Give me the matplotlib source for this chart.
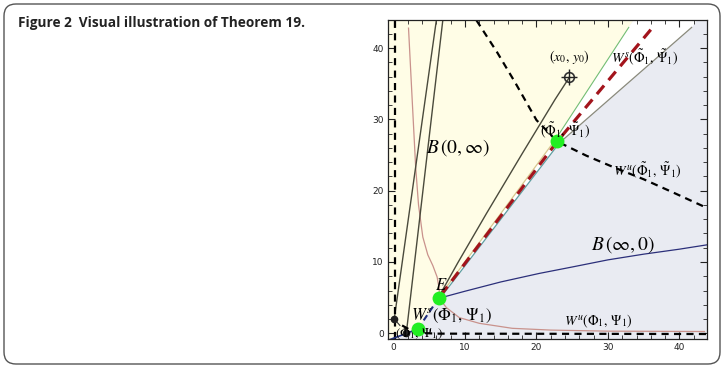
import numpy as np
import matplotlib
matplotlib.use("Agg")
import matplotlib.pyplot as plt
from matplotlib.patches import FancyBboxPatch, Polygon
from matplotlib.ticker import MultipleLocator
from matplotlib.transforms import IdentityTransform

plt.rcParams['mathtext.fontset'] = 'stix'

# ---- data ----
E = (6.3, 4.9)
phi1 = (3.4, 0.6)          # (Phi_1, Psi_1)
phi1t = (22.9, 26.9)       # (Phi~_1, Psi~_1)
x0y0 = (24.6, 35.9)
black_pts_x = [0.1, 1.8]
black_pts_y = [2.0, 0.1]

# boundaries of the white strip
left_bx = [6.3, 22.6, 32.9]
left_by = [5.0, 27.1, 42.9]
right_bx = [6.5, 23.2, 41.7]
right_by = [4.9, 26.7, 42.9]

red_x = [6.6, 22.9, 36.5]
red_y = [5.3, 26.9, 43.2]

pink_x = [2.1, 2.6, 3.1, 3.5, 4.1, 4.8, 5.5, 6.1, 6.4, 6.4, 7.4, 9.2, 12.0, 16.6, 22.0, 30.0, 43.5]
pink_y = [42.8, 33.0, 23.3, 18.0, 13.5, 11.0, 9.5, 7.9, 6.2, 4.9, 3.6, 2.2, 1.4, 0.7, 0.45, 0.3, 0.25]

wu_x = [11.6, 14.5, 17.0, 20.0, 22.9, 27.0, 31.0, 35.0, 39.0, 43.8]
wu_y = [43.9, 39.4, 35.2, 29.9, 26.9, 24.9, 23.2, 21.6, 19.8, 17.6]

binf_x = [6.3, 10.0, 15.0, 20.4, 25.0, 30.0, 35.0, 40.0, 43.8]
binf_y = [4.9, 5.9, 7.2, 8.4, 9.3, 10.3, 11.1, 11.8, 12.4]

traj_x = [24.6, 22.6, 18.0, 13.0, 9.0, 6.6]
traj_y = [35.9, 32.8, 25.2, 16.8, 9.9, 5.6]

steep1_x = [0.1, 6.0]
steep1_y = [2.0, 43.94]
steep2_x = [1.8, 6.9]
steep2_y = [0.1, 43.94]

low_dash_x = [1.2, 3.0, 6.0, 43.8]
low_dash_y = [1.1, 0.1, -0.05, -0.1]

fig = plt.figure(figsize=(7.23, 3.68), dpi=100)

frame = FancyBboxPatch((4, 4), 716, 360, boxstyle="round,pad=0,rounding_size=12",
                       transform=IdentityTransform(), fc='white', ec='#555555', lw=1.0)
fig.add_artist(frame)
frame.set_zorder(0)

fig.text(18 / 723, 1 - 27 / 368, "Figure 2  Visual illustration of Theorem 19.",
         fontsize=9.8, fontweight='bold', family='Open Sans', va='baseline', ha='left', color='#222222')

ax = fig.add_axes([388 / 723, 29 / 368, 319 / 723, 319 / 368])
xmin, xmax, ymin, ymax = -0.77, 43.85, -0.8, 43.94
ax.set_xlim(xmin, xmax)
ax.set_ylim(ymin, ymax)
ax.set_facecolor('#E9EBF2')

# yellow region left of boundary
yel = [(xmin, ymin), phi1, (left_bx[0], left_by[0]), (left_bx[1], left_by[1]),
       (left_bx[2], left_by[2]), (33.6, ymax), (xmin, ymax)]
ax.add_patch(Polygon(yel, closed=True, fc='#FFFDE6', ec='none', zorder=0))
# white strip
strip = [(left_bx[0], left_by[0]), (left_bx[1], left_by[1]), (left_bx[2], left_by[2]), (33.6, ymax),
         (42.5, ymax), (right_bx[2], right_by[2]), (right_bx[1], right_by[1]), (right_bx[0], right_by[0])]
ax.add_patch(Polygon(strip, closed=True, fc='white', ec='none', zorder=0))

# boundary lines
ax.plot(left_bx[:2], left_by[:2], color='#D8C88E', lw=0.9)
ax.plot(left_bx[1:], left_by[1:], color='#74BE74', lw=0.8)
ax.plot(right_bx[:2], right_by[:2], color='#5E9EA0', lw=0.9)
ax.plot(right_bx[1:], right_by[1:], color='#8A8A7C', lw=0.9)

# curves
ax.plot(pink_x, pink_y, color='#C9928C', lw=0.9)
ax.plot(binf_x, binf_y, color='#2B2F7A', lw=0.9)
ax.plot(traj_x, traj_y, color='#4A4A3C', lw=1.0)
ax.plot(steep1_x, steep1_y, color='#4A4A3C', lw=1.0)
ax.plot(steep2_x, steep2_y, color='#4A4A3C', lw=1.0)
ax.plot(red_x, red_y, color='#A3141C', lw=2.3, dashes=(3.5, 2.2))
ax.plot(wu_x, wu_y, color='black', lw=1.6, dashes=(3.2, 2.4))
ax.plot(low_dash_x, low_dash_y, color='black', lw=1.6, dashes=(3.2, 2.4))
ax.plot([0.15, 0.15], [ymin, ymax], color='black', lw=1.6, dashes=(3.2, 2.4))
ax.plot([phi1[0], E[0]], [phi1[1], E[1]], color='#1F2F7A', lw=1.5, dashes=(3, 2))
ax.plot([-0.8, phi1[0]], [-1.0, phi1[1]], color='#1F2F7A', lw=1.2)
ax.plot([0.1, 0.9], [2.0, 1.1], color='#333333', lw=0.8)

# points
ax.plot(black_pts_x, black_pts_y, 'o', color='#222222', ms=4.5)
ax.plot([E[0], phi1[0], phi1t[0]], [E[1], phi1[1], phi1t[1]], 'o', color='#22EE22', ms=10, mec='none')
ax.plot([x0y0[0]], [x0y0[1]], 'o', mfc='none', mec='#333333', ms=7, mew=1.2)
ax.plot([x0y0[0]], [x0y0[1]], '+', color='#222222', ms=11, mew=1.0)

# labels
ax.text(24.6, 38.75, r"$(x_0,\, y_0)$", fontsize=10, ha='center', va='center')
ax.text(35.2, 38.75, r"$W^s(\tilde{\Phi}_1,\, \tilde{\Psi}_1)$", fontsize=10, ha='center', va='center')
ax.text(24.0, 28.5, r"$(\tilde{\Phi}_1,\, \tilde{\Psi}_1)$", fontsize=10, ha='center', va='center')
ax.text(35.5, 22.9, r"$W^u(\tilde{\Phi}_1,\, \tilde{\Psi}_1)$", fontsize=10, ha='center', va='center')
ax.text(9.0, 26.0, r"$B\,(0,\infty)$", fontsize=14, ha='center', va='center')
ax.text(32.1, 12.4, r"$B\,(\infty,0)$", fontsize=14, ha='center', va='center')
ax.text(6.7, 6.8, r"$E$", fontsize=12, ha='center', va='center')
ax.text(8.1, 2.4, r"$W^s(\Phi_1,\, \Psi_1)$", fontsize=12, ha='center', va='center')
ax.text(28.7, 1.7, r"$W^u(\Phi_1,\, \Psi_1)$", fontsize=10, ha='center', va='center')
ax.text(3.6, 0.0, r"$(\Phi_1,\, \Psi_1)$", fontsize=9.5, ha='center', va='center', clip_on=False)

ax.xaxis.set_major_locator(MultipleLocator(10))
ax.yaxis.set_major_locator(MultipleLocator(10))
ax.xaxis.set_minor_locator(MultipleLocator(2))
ax.yaxis.set_minor_locator(MultipleLocator(2))
ax.tick_params(which='both', direction='in', top=True, right=True, labelsize=6.5, colors='#222222')
ax.tick_params(which='major', length=5, width=0.8, pad=3)
ax.tick_params(which='minor', length=3, width=0.6)
for s in ax.spines.values():
    s.set_linewidth(0.9)
    s.set_color('#222222')

fig.savefig('out.png', dpi=100)
